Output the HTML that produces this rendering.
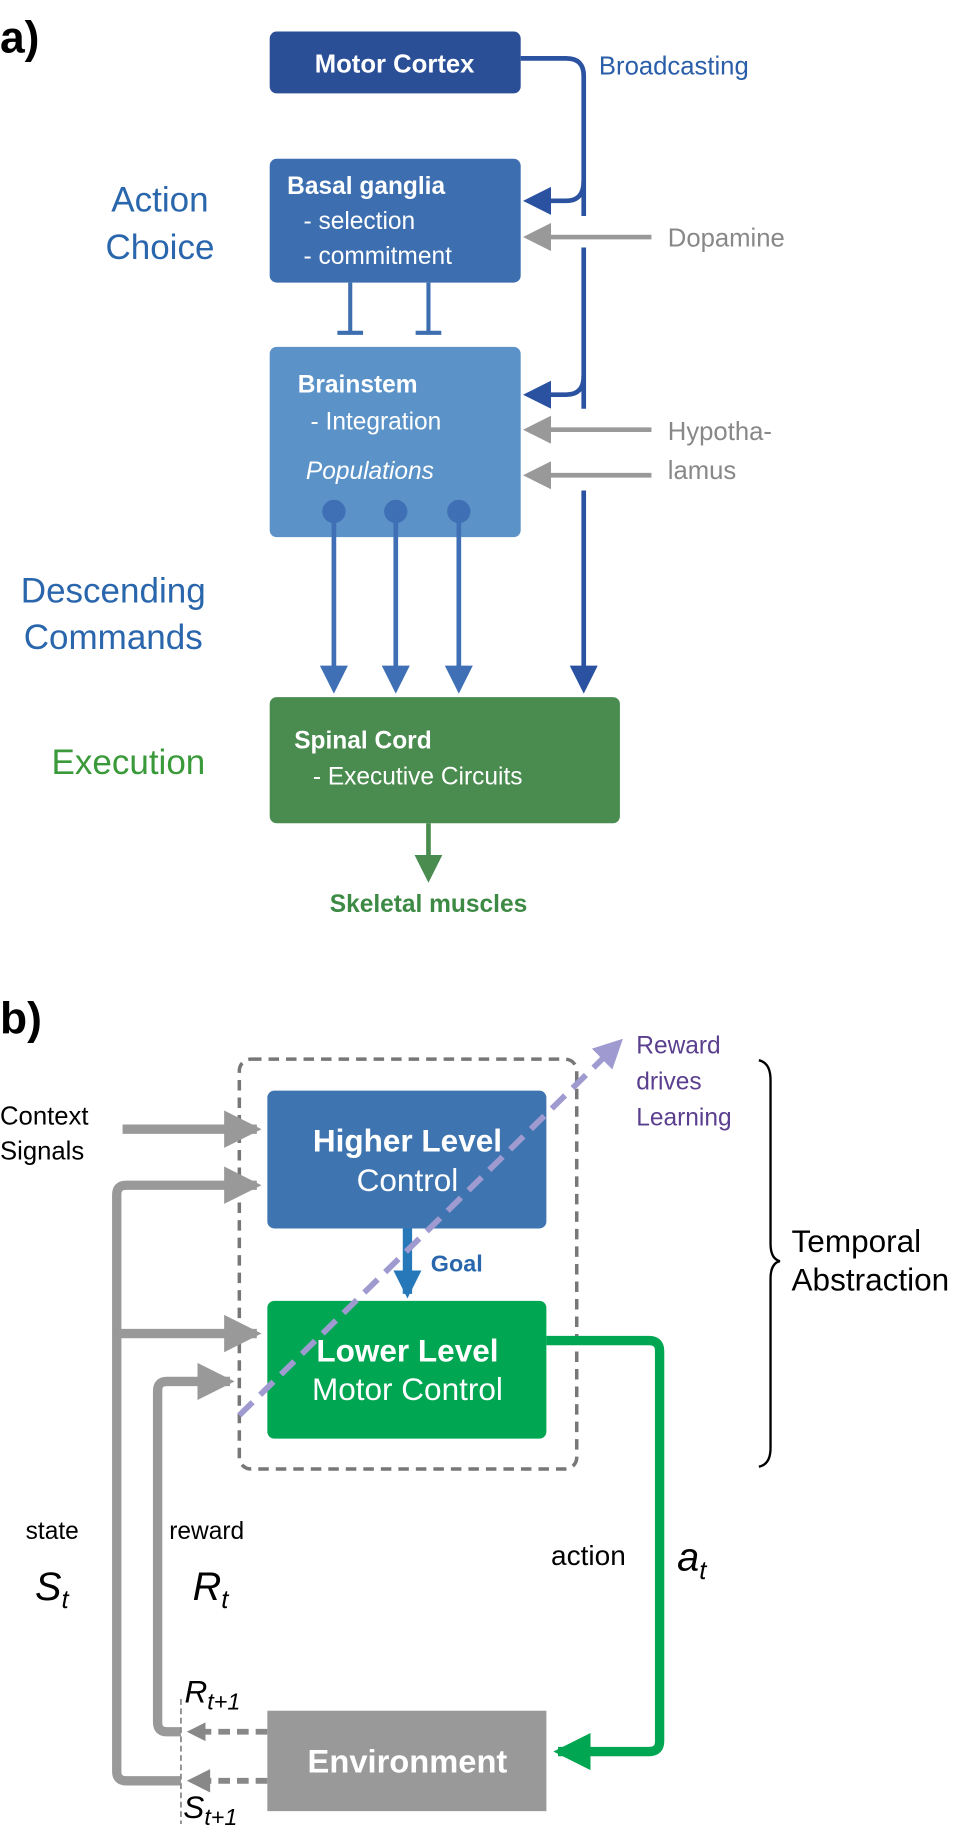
<!DOCTYPE html>
<html><head><meta charset="utf-8"><style>
html,body{margin:0;padding:0;background:#fff}
svg{display:block}
text{font-family:"Liberation Sans",Arial,sans-serif}
</style></head><body>
<svg width="969" height="1831" viewBox="0 0 830 1568" preserveAspectRatio="none" xmlns="http://www.w3.org/2000/svg">
<defs>
<marker id="ab" markerWidth="6" markerHeight="6" refX="5" refY="3" orient="auto" markerUnits="strokeWidth"><path d="M0,0 L6,3 L0,6 Z" fill="#2a52a0"/></marker>
<marker id="al" markerWidth="6" markerHeight="6" refX="5" refY="3" orient="auto" markerUnits="strokeWidth"><path d="M0,0 L6,3 L0,6 Z" fill="#3f6fb4"/></marker>
<marker id="ag" markerWidth="6" markerHeight="6" refX="5" refY="3" orient="auto" markerUnits="strokeWidth"><path d="M0,0 L6,3 L0,6 Z" fill="#999"/></marker>
<marker id="agr" markerWidth="6" markerHeight="6" refX="5" refY="3" orient="auto" markerUnits="strokeWidth"><path d="M0,0 L6,3 L0,6 Z" fill="#4a8c4f"/></marker>
<marker id="ag2" markerWidth="4" markerHeight="4" refX="3.5" refY="2" orient="auto" markerUnits="strokeWidth"><path d="M0,0 L4,2 L0,4 Z" fill="#999"/></marker>
<marker id="agn" markerWidth="4" markerHeight="4" refX="3.5" refY="2" orient="auto" markerUnits="strokeWidth"><path d="M0,0 L4,2 L0,4 Z" fill="#00a651"/></marker>
<marker id="agl" markerWidth="3" markerHeight="3" refX="2.5" refY="1.5" orient="auto" markerUnits="strokeWidth"><path d="M0,0 L3,1.5 L0,3 Z" fill="#2778b8"/></marker>
<marker id="apu" markerWidth="5" markerHeight="5" refX="4" refY="2.5" orient="auto" markerUnits="strokeWidth"><path d="M0,0 L5,2.5 L0,5 Z" fill="#9f9bd0"/></marker>
</defs>
<text x="0" y="45" font-size="38" font-weight="bold">a)</text>
<rect x="231" y="27" width="215" height="53" rx="6" fill="#2a4f97"/>
<text x="338" y="62" font-size="22" font-weight="bold" fill="#fff" text-anchor="middle">Motor Cortex</text>
<text x="513" y="64" font-size="22" fill="#2a5ea8">Broadcasting</text>
<g fill="none" stroke="#2a52a0" stroke-width="4">
<path d="M446,50 H485 Q500,50 500,65 V185"/>
<path d="M500,155 Q500,172 485,172 H452" marker-end="url(#ab)"/>
<path d="M500,212 V350"/>
<path d="M500,322 Q500,338 485,338 H452" marker-end="url(#ab)"/>
<path d="M500,420 V590" marker-end="url(#ab)"/>
</g>
<rect x="231" y="136" width="215" height="106" rx="6" fill="#3d6fb0"/>
<text x="246" y="166" font-size="21" font-weight="bold" fill="#fff">Basal ganglia</text>
<text x="260" y="196" font-size="21" fill="#fff">- selection</text>
<text x="260" y="226" font-size="21" fill="#fff">- commitment</text>
<g stroke="#3d6fb0" stroke-width="3.5"><path d="M300,242 V285 M289,285 H311 M367,242 V285 M356,285 H378"/></g>
<rect x="231" y="297" width="215" height="163" rx="6" fill="#5b93c8"/>
<text x="255" y="336" font-size="21" font-weight="bold" fill="#fff">Brainstem</text>
<text x="266" y="368" font-size="21" fill="#fff">- Integration</text>
<text x="262" y="410" font-size="21" font-style="italic" fill="#fff">Populations</text>
<g fill="#3f6fb4"><circle cx="286" cy="438" r="10"/><circle cx="339" cy="438" r="10"/><circle cx="393" cy="438" r="10"/></g>
<g stroke="#3f6fb4" stroke-width="4"><path d="M286,438 V590" marker-end="url(#al)"/><path d="M339,438 V590" marker-end="url(#al)"/><path d="M393,438 V590" marker-end="url(#al)"/></g>
<g stroke="#999" stroke-width="4"><path d="M558,203 H452" marker-end="url(#ag)"/><path d="M558,368 H452" marker-end="url(#ag)"/><path d="M558,407 H452" marker-end="url(#ag)"/></g>
<text x="572" y="211" font-size="22" fill="#888">Dopamine</text>
<text x="572" y="377" font-size="22" fill="#888">Hypotha-</text>
<text x="572" y="410" font-size="22" fill="#888">lamus</text>
<g font-size="30" fill="#2a66ac" text-anchor="middle"><text x="137" y="181">Action</text><text x="137" y="222">Choice</text><text x="97" y="516">Descending</text><text x="97" y="556">Commands</text></g>
<text x="110" y="663" font-size="30" fill="#3a9a3a" text-anchor="middle">Execution</text>
<rect x="231" y="597" width="300" height="108" rx="6" fill="#4a8c4f"/>
<text x="252" y="641" font-size="21" font-weight="bold" fill="#fff">Spinal Cord</text>
<text x="268" y="672" font-size="21" fill="#fff">- Executive Circuits</text>
<path d="M367,705 V752" stroke="#4a8c4f" stroke-width="4" marker-end="url(#agr)"/>
<text x="367" y="781" font-size="21" font-weight="bold" fill="#3d8a45" text-anchor="middle">Skeletal muscles</text>
<text x="0" y="885" font-size="38" font-weight="bold">b)</text>
<rect x="205" y="907" width="289" height="351" rx="10" fill="none" stroke="#777" stroke-width="3" stroke-dasharray="9,6"/>
<rect x="229" y="934" width="239" height="118" rx="6" fill="#3e75b0"/>
<text x="349" y="986" font-size="27" font-weight="bold" fill="#fff" text-anchor="middle">Higher Level</text>
<text x="349" y="1020" font-size="27" fill="#fff" text-anchor="middle">Control</text>
<rect x="229" y="1114" width="239" height="118" rx="6" fill="#00a651"/>
<text x="349" y="1166" font-size="27" font-weight="bold" fill="#fff" text-anchor="middle">Lower Level</text>
<text x="349" y="1199" font-size="27" fill="#fff" text-anchor="middle">Motor Control</text>
<path d="M349,1052 V1108" stroke="#2778b8" stroke-width="8" marker-end="url(#agl)"/>
<text x="369" y="1089" font-size="20" font-weight="bold" fill="#2a66ac">Goal</text>
<path d="M468,1148 H556 Q565,1148 565,1157 V1491 Q565,1500 556,1500 H478" fill="none" stroke="#00a651" stroke-width="8" marker-end="url(#agn)"/>
<rect x="229" y="1465" width="239" height="86" fill="#999"/>
<text x="349" y="1518" font-size="28" font-weight="bold" fill="#fff" text-anchor="middle">Environment</text>
<text x="0" y="963" font-size="22">Context</text>
<text x="0" y="993" font-size="22">Signals</text>
<g fill="none" stroke="#999" stroke-width="8">
<path d="M105,967 H220" marker-end="url(#ag2)"/>
<path d="M155,1525 H108 Q100,1525 100,1517 V1023 Q100,1015 108,1015 H220" marker-end="url(#ag2)"/>
<path d="M100,1142 H220" marker-end="url(#ag2)"/>
<path d="M155,1483 H143 Q135,1483 135,1475 V1191 Q135,1183 143,1183 H197" marker-end="url(#ag2)"/>
</g>
<g stroke="#888" stroke-width="5" stroke-dasharray="10,6" fill="none">
<path d="M229,1483 H168"/><path d="M229,1525 H168"/>
</g>
<path d="M176,1475 L160,1483 L176,1491 Z M180,1515 L160,1525 L180,1535 Z" fill="#888"/>
<path d="M155,1455 V1562" stroke="#888" stroke-width="1.5" stroke-dasharray="5,3"/>
<path d="M205,1212 L530,893" stroke="#9f9bd0" stroke-width="5" stroke-dasharray="16,9" fill="none" marker-end="url(#apu)"/>
<g font-size="21" fill="#5b3f8f"><text x="545" y="902">Reward</text><text x="545" y="933">drives</text><text x="545" y="964">Learning</text></g>
<path d="M650,908 Q660,910 660,925 V1065 Q660,1078 668,1080 Q660,1082 660,1095 V1240 Q660,1254 650,1256" fill="none" stroke="#000" stroke-width="2"/>
<text x="678" y="1072" font-size="27">Temporal</text>
<text x="678" y="1105" font-size="27">Abstraction</text>
<text x="22" y="1318" font-size="21">state</text>
<text x="145" y="1318" font-size="21">reward</text>
<text x="472" y="1340" font-size="24">action</text>
<g font-family="Liberation Serif,serif" font-style="italic">
<text x="30" y="1370" font-size="34">S<tspan font-size="22" dy="7">t</tspan></text>
<text x="165" y="1370" font-size="34">R<tspan font-size="22" dy="7">t</tspan></text>
<text x="580" y="1345" font-size="34">a<tspan font-size="22" dy="7">t</tspan></text>
<text x="158" y="1458" font-size="27">R<tspan font-size="20" dy="6">t+1</tspan></text>
<text x="157" y="1557" font-size="27">S<tspan font-size="20" dy="6">t+1</tspan></text>
</g>
</svg>
</body></html>
